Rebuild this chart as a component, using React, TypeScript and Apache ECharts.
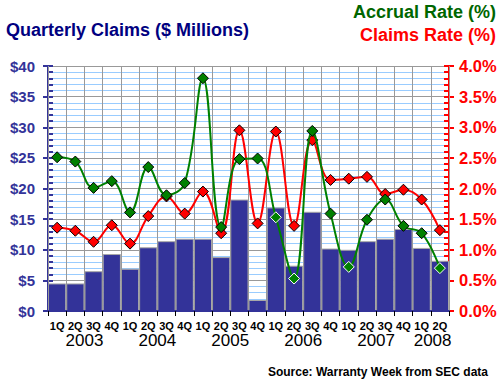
import React, { useEffect, useRef } from "react";
import * as echarts from "echarts";

const quarters = [
  "1Q", "2Q", "3Q", "4Q",
  "1Q", "2Q", "3Q", "4Q",
  "1Q", "2Q", "3Q", "4Q",
  "1Q", "2Q", "3Q", "4Q",
  "1Q", "2Q", "3Q", "4Q",
  "1Q", "2Q",
];
const years = ["2003", "2004", "2005", "2006", "2007", "2008"];
const yearCenters = [1.5, 5.5, 9.5, 13.5, 17.5, 20.6];

const claims = [
  4.5, 4.5, 6.5, 9.3,
  6.9, 10.4, 11.4, 11.8,
  11.8, 8.8, 18.2, 1.8,
  16.9, 7.4, 16.2, 10.2,
  10.0, 11.4, 11.8, 13.4,
  10.3, 8.2,
];
const accrualRate = [
  2.51, 2.44, 2.01, 2.12,
  1.61, 2.35, 1.89, 2.09,
  3.8, 1.37, 2.48, 2.49,
  1.53, 0.53, 2.94, 1.59,
  0.72, 1.49, 1.82, 1.39,
  1.27, 0.7,
];
const claimsRate = [
  1.36, 1.31, 1.13, 1.4,
  1.1, 1.55, 1.87, 1.59,
  1.95, 1.27, 2.95, 1.43,
  2.93, 1.39, 2.79, 2.14,
  2.16, 2.19, 1.91, 1.98,
  1.82, 1.32,
];

const FONT = "'Liberation Sans', Arial, sans-serif";
const NAVY = "#333399";
const GREEN = "#008000";
const RED = "#ff0000";

function rateData(rates: number[], color: string) {
  return rates.map((r, i) => ({
    value: r,
    itemStyle: {
      color,
      borderColor: r * 10 < claims[i] ? "#ffffff" : "#000000",
      borderWidth: 1,
    },
  }));
}

export default function App() {
  const ref = useRef<HTMLDivElement>(null);
  useEffect(() => {
    document.body.style.margin = "0";
    if (!ref.current) return;
    const chart = echarts.init(ref.current, undefined, { renderer: "svg" });
    chart.setOption({
      animation: false,
      backgroundColor: "#ffffff",
      textStyle: { fontFamily: FONT },
      grid: { left: 48, right: 51, top: 66, bottom: 74 },
      graphic: [
        {
          type: "text",
          left: 6,
          top: 21,
          style: {
            text: "Quarterly Claims ($ Millions)",
            fill: "#000080",
            font: `bold 18px ${FONT}`,
          },
        },
        {
          type: "text",
          right: 4,
          top: 3,
          style: {
            text: "Accrual Rate (%)",
            fill: "#006600",
            font: `bold 18px ${FONT}`,
          },
        },
        {
          type: "text",
          right: 4,
          top: 26,
          style: {
            text: "Claims Rate (%)",
            fill: RED,
            font: `bold 18px ${FONT}`,
          },
        },
        {
          type: "text",
          right: 12,
          top: 366,
          style: {
            text: "Source: Warranty Week from SEC data",
            fill: "#000000",
            font: `bold 12px ${FONT}`,
          },
        },
      ],
      xAxis: [
        {
          type: "category",
          data: quarters,
          boundaryGap: true,
          axisLine: { show: true, onZero: false, lineStyle: { color: NAVY, width: 2 } },
          axisTick: {
            show: true,
            interval: 0,
            length: 5,
            lineStyle: { color: "#000000" },
          },
          axisLabel: {
            interval: 0,
            margin: 9,
            color: "#000000",
            fontWeight: "bold",
            fontSize: 11,
            fontFamily: FONT,
          },
          splitLine: {
            show: true,
            interval: 0,
            lineStyle: { color: "#999999", width: 1 },
          },
          z: 3,
        },
        {
          type: "value",
          position: "bottom",
          min: -0.5,
          max: 21.5,
          axisLine: { show: false, onZero: false },
          axisTick: { show: false },
          splitLine: { show: false },
          axisLabel: {
            customValues: yearCenters,
            formatter: (v: number) => {
              const idx = yearCenters.findIndex((c) => Math.abs(c - v) < 0.01);
              return idx >= 0 ? years[idx] : "";
            },
            margin: 21,
            color: "#000000",
            fontSize: 17,
            fontFamily: FONT,
          },
        },
      ],
      yAxis: [
        {
          type: "value",
          position: "left",
          min: 0,
          max: 40,
          interval: 5,
          axisLine: { show: true, onZero: false, lineStyle: { color: NAVY, width: 2 } },
          axisTick: { show: true, inside: true, length: 5, lineStyle: { color: NAVY, width: 2 } },
          minorTick: { show: true, splitNumber: 5, length: 5, lineStyle: { color: NAVY, width: 2 } },
          splitLine: { show: true, lineStyle: { color: "#999999", width: 1 } },
          minorSplitLine: { show: true, lineStyle: { color: "#99ccff", width: 1 } },
          axisLabel: {
            formatter: (v: number) => "$" + v,
            color: NAVY,
            fontWeight: "bold",
            fontSize: 15,
            fontFamily: FONT,
            margin: 13,
          },
        },
        {
          type: "value",
          position: "right",
          min: 0,
          max: 4,
          interval: 0.5,
          axisLine: { show: true, onZero: false, lineStyle: { color: RED, width: 2 } },
          axisTick: { show: true, inside: true, length: 5, lineStyle: { color: RED, width: 2 } },
          minorTick: { show: true, splitNumber: 5, length: 5, lineStyle: { color: RED, width: 2 } },
          splitLine: { show: false },
          axisLabel: {
            formatter: (v: number) => v.toFixed(1) + "%",
            color: RED,
            fontWeight: "bold",
            fontSize: 16.5,
            fontFamily: FONT,
            margin: 10,
          },
        },
        {
          type: "value",
          position: "left",
          min: 0,
          max: 40,
          interval: 5,
          axisLine: { show: false, onZero: false },
          axisTick: { show: true, inside: false, length: 5, lineStyle: { color: NAVY, width: 2 } },
          splitLine: { show: false },
          axisLabel: { show: false },
        },
        {
          type: "value",
          position: "right",
          min: 0,
          max: 4,
          interval: 0.5,
          axisLine: { show: false, onZero: false },
          axisTick: { show: true, inside: false, length: 5, lineStyle: { color: RED, width: 2 } },
          splitLine: { show: false },
          axisLabel: { show: false },
        },
      ],
      series: [
        {
          type: "bar",
          name: "Quarterly Claims",
          xAxisIndex: 0,
          yAxisIndex: 0,
          data: claims,
          barCategoryGap: "0%",
          itemStyle: { color: NAVY, borderColor: "#a8a8a8", borderWidth: 1 },
          z: 2,
        },
        {
          type: "line",
          name: "Claims Rate (%)",
          xAxisIndex: 0,
          yAxisIndex: 1,
          data: rateData(claimsRate, RED),
          smooth: 0.4,
          symbol: "diamond",
          symbolSize: 11,
          lineStyle: { color: RED, width: 2 },
          z: 3,
        },
        {
          type: "line",
          name: "Accrual Rate (%)",
          xAxisIndex: 0,
          yAxisIndex: 1,
          data: rateData(accrualRate, GREEN),
          smooth: 0.4,
          symbol: "diamond",
          symbolSize: 11,
          lineStyle: { color: GREEN, width: 2 },
          z: 4,
        },
      ],
    });
    return () => chart.dispose();
  }, []);
  return <div ref={ref} style={{ width: 500, height: 385 }} />;
}
